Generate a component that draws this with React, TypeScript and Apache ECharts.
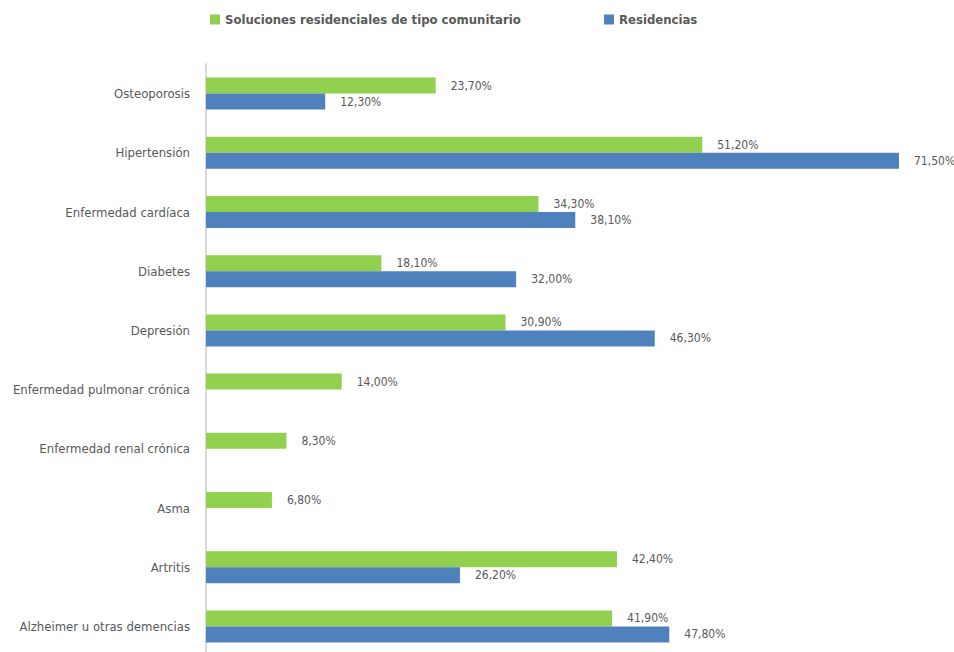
import React, { useEffect, useRef } from "react";
import * as echarts from "echarts";

const categories = [
  "Osteoporosis",
  "Hipertensión",
  "Enfermedad cardíaca",
  "Diabetes",
  "Depresión",
  "Enfermedad pulmonar crónica",
  "Enfermedad renal crónica",
  "Asma",
  "Artritis",
  "Alzheimer u otras demencias",
];
const seriesNames = ["Soluciones residenciales de tipo comunitario", "Residencias"];
const comunitario = [23.7, 51.2, 34.3, 18.1, 30.9, 14.0, 8.3, 6.8, 42.4, 41.9];
const residencias = [12.3, 71.5, 38.1, 32.0, 46.3, null, null, null, 26.2, 47.8];

const FONT = '"DejaVu Sans Condensed", "Liberation Sans Narrow", sans-serif';
const fmt = (v: number) => v.toFixed(2).replace(".", ",") + "%";

export default function App() {
  const ref = useRef<HTMLDivElement>(null);
  useEffect(() => {
    const chart = echarts.init(ref.current!, undefined, { renderer: "svg" });
    const labelCfg = {
      show: true,
      position: "right" as const,
      distance: 15,
      color: "#595959",
      fontFamily: FONT,
      fontSize: 12,
      formatter: (p: any) => fmt(p.value),
    };
    chart.setOption({
      animation: false,
      textStyle: { fontFamily: FONT },
      legend: [
        {
          data: [seriesNames[0]],
          left: 205,
          top: 8,
          itemWidth: 10,
          itemHeight: 10,
          itemGap: 4,
          icon: "rect",
          textStyle: { color: "#595959", fontSize: 13, fontWeight: "bold", fontFamily: FONT },
        },
        {
          data: [seriesNames[1]],
          left: 599,
          top: 8,
          itemWidth: 10,
          itemHeight: 10,
          icon: "rect",
          textStyle: { color: "#595959", fontSize: 13, fontWeight: "bold", fontFamily: FONT },
        },
      ],
      grid: { left: 206, top: 64, width: 693, height: 592, containLabel: false, outerBoundsMode: "none" },
      xAxis: {
        type: "value",
        min: 0,
        max: 71.5,
        show: false,
        splitLine: { show: false },
      },
      yAxis: {
        type: "category",
        inverse: true,
        data: categories,
        axisTick: { show: false },
        axisLine: { show: true, lineStyle: { color: "#D9D9D9", width: 2 } },
        axisLabel: { color: "#595959", fontSize: 13, fontFamily: FONT, margin: 16 },
      },
      series: [
        {
          name: seriesNames[0],
          type: "bar",
          data: comunitario,
          barWidth: 16,
          barGap: "0%",
          itemStyle: { color: "#92D050" },
          label: labelCfg,
        },
        {
          name: seriesNames[1],
          type: "bar",
          data: residencias,
          barWidth: 16,
          barGap: "0%",
          itemStyle: { color: "#4F81BD" },
          label: labelCfg,
        },
      ],
    });
    return () => chart.dispose();
  }, []);
  return <div ref={ref} style={{ width: 954, height: 652, position: "absolute", left: 0, top: 0 }} />;
}
